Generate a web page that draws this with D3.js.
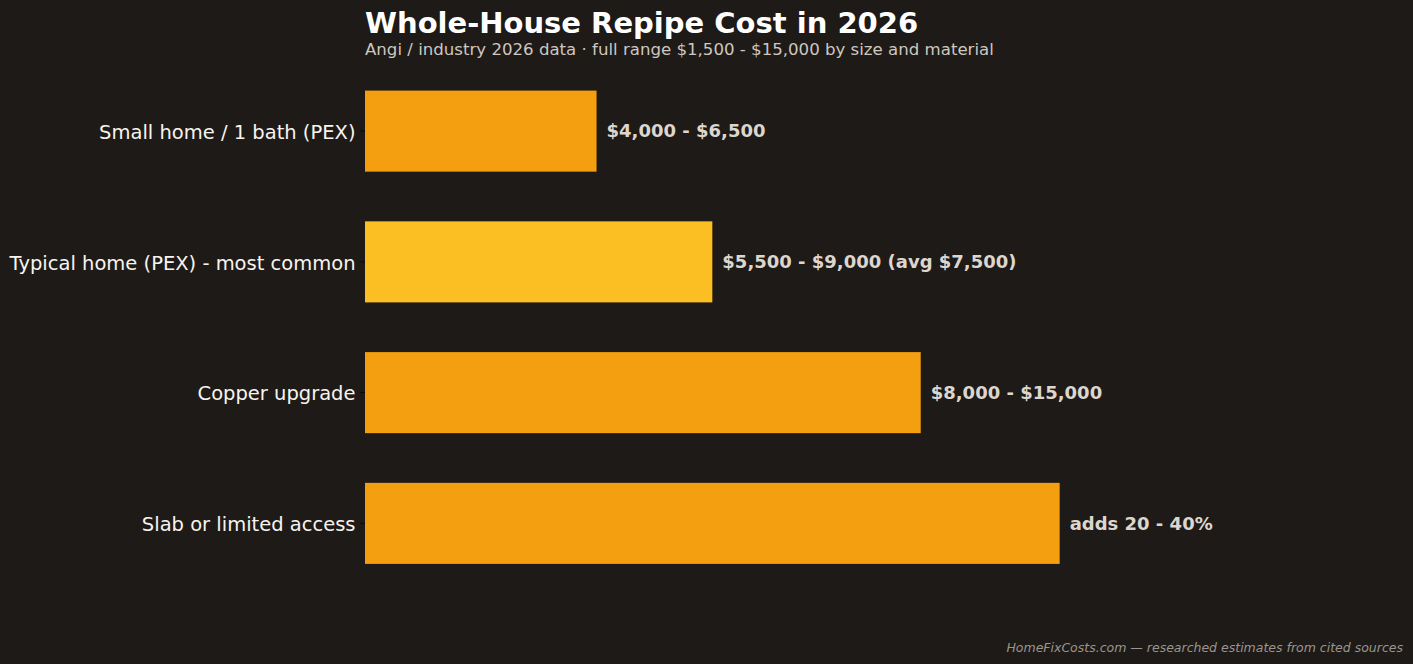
<!DOCTYPE html>
<html>
<head>
<meta charset="utf-8">
<script src="https://cdn.jsdelivr.net/npm/d3@7.9.0/dist/d3.min.js"></script>
<style>
  html, body { margin: 0; padding: 0; background: #1e1a17; }
  svg { display: block; font-family: "DejaVu Sans", sans-serif; }
</style>
</head>
<body>
<svg id="chart" width="1413" height="664"></svg>
<script>
// chart data
const categories = [
    'Small home / 1 bath (PEX)',
    'Typical home (PEX) - most common',
    'Copper upgrade',
    'Slab or limited access'
];
const values = [5000, 7500, 12000, 15000];
const valueLabels = [
    '$4,000 - $6,500',
    '$5,500 - $9,000 (avg $7,500)',
    '$8,000 - $15,000',
    'adds 20 - 40%'
];
const highlight = [false, true, false, false];

const width = 1413, height = 664;
const left = 365, right = 1407;

const svg = d3.select('#chart');
svg.append('rect').attr('width', width).attr('height', height).attr('fill', '#1e1a17');

let x = d3.scaleLinear().domain([0, 22500]).range([left, right]);
let y = d3.scaleBand()
    .domain(categories)
    .range([65.75, 588.75])
    .paddingInner(0.38)
    .paddingOuter(0.19);

// bars
svg.append('g').selectAll('rect')
    .data(categories)
    .join('rect')
    .attr('x', x(0))
    .attr('y', (d) => y(d))
    .attr('width', (d, i) => x(values[i]) - x(0))
    .attr('height', y.bandwidth())
    .attr('fill', (d, i) => highlight[i] ? '#fbbf24' : '#f39f0f');

// y axis
let yAxis = svg.append('g')
    .attr('transform', `translate(${left},0)`)
    .call(d3.axisLeft(y).tickSize(4.5).tickPadding(5));
yAxis.select('.domain').remove();
yAxis.selectAll('line').attr('stroke', '#0a0806').attr('stroke-width', 1);
yAxis.selectAll('text')
    .attr('fill', '#f7f4ef')
    .attr('font-size', 19.5)
    .attr('dy', '0.4em')
    .attr('font-family', '"DejaVu Sans", sans-serif');

// value labels
svg.append('g').selectAll('text')
    .data(categories)
    .join('text')
    .attr('x', (d, i) => x(values[i]) + 10)
    .attr('y', (d) => y(d) + y.bandwidth() / 2)
    .attr('dy', '0.35em')
    .attr('fill', '#dcd6ce')
    .attr('font-size', 18)
    .attr('font-weight', 'bold')
    .text((d, i) => valueLabels[i]);

// titles
svg.append('text')
    .attr('x', left).attr('y', 33)
    .attr('fill', '#ffffff')
    .attr('font-size', 29)
    .attr('font-weight', 'bold')
    .text('Whole-House Repipe Cost in 2026');

svg.append('text')
    .attr('x', left).attr('y', 55)
    .attr('fill', '#cdc7bf')
    .attr('font-size', 16.6)
    .text('Angi / industry 2026 data \u00b7 full range $1,500 - $15,000 by size and material');

svg.append('text')
    .attr('x', 1403).attr('y', 652)
    .attr('text-anchor', 'end')
    .attr('fill', '#9b958e')
    .attr('font-size', 12.5)
    .attr('font-style', 'italic')
    .text('HomeFixCosts.com \u2014 researched estimates from cited sources');
</script>
</body>
</html>
